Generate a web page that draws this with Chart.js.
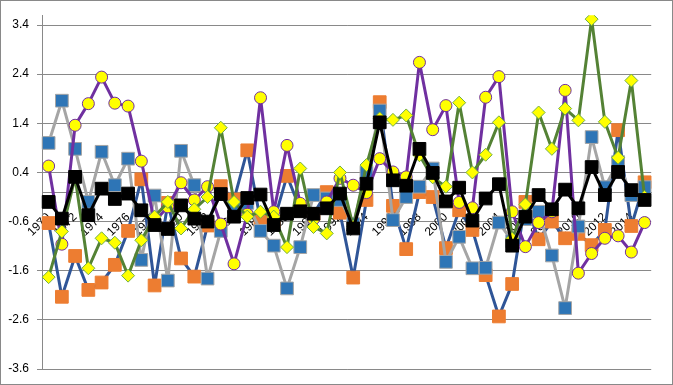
<!DOCTYPE html>
<html>
<head>
<meta charset="utf-8">
<script src="https://cdn.jsdelivr.net/npm/chart.js@4.4.1/dist/chart.umd.min.js"></script>
<style>
  html, body { margin: 0; padding: 0; background: #fff; }
  #wrap { position: relative; width: 673px; height: 385px; }
</style>
</head>
<body>
<div id="wrap"><canvas id="chart" width="673" height="385"></canvas></div>
<script>
const years = ["1970","1971","1972","1973","1974","1975","1976","1977","1978","1979",
  "1980","1981","1982","1983","1984","1985","1986","1987","1988","1989",
  "1990","1991","1992","1993","1994","1995","1996","1997","1998","1999",
  "2000","2001","2002","2003","2004","2005","2006","2007","2008","2009",
  "2010","2011","2012","2013","2014","2015"];

const yTicks = [-3.6, -2.6, -1.6, -0.6, 0.4, 1.4, 2.4, 3.4];

// orange squares on the dark blue line
const orangeVals = [-0.63, -2.13, -1.30, -1.99, -1.84, -1.48, -0.79, 0.26, -1.90, -0.22,
  -1.35, -1.72, -0.68, 0.12, -0.15, 0.85, -0.58, -0.60, 0.33, -0.35,
  -0.45, 0.00, -0.42, -1.74, -0.16, 1.83, -0.28, -1.16, 0.00, -0.10,
  -1.14, -0.37, -0.77, -1.69, -2.53, -1.87, -0.20, -0.96, -0.60, -0.94,
  -0.85, -1.08, -0.77, 1.26, -0.69, 0.20];

// blue squares on the grey line
const blueVals = [1.00, 1.86, 0.88, -0.20, 0.82, 0.14, 0.68, -1.38, -0.07, -1.80,
  0.84, 0.14, -1.76, -0.79, -0.30, -0.22, -0.79, -1.09, -1.96, -1.12,
  -0.06, -0.13, -0.16, -0.65, 0.40, 1.66, -0.57, -0.10, 0.11, 0.48,
  -1.42, -0.91, -1.55, -1.54, -0.62, -1.00, -0.55, -0.40, -1.29, -2.36,
  -0.70, 1.12, 0.10, 0.61, -0.06, 0.10];

// yellow circles on the purple line
const circleVals = [0.53, -1.06, 1.36, 1.80, 2.34, 1.81, 1.75, 0.63, -0.60, -0.30,
  0.19, -0.16, 0.11, -0.65, -1.46, -0.45, 1.92, -0.40, 0.95, -0.23,
  -0.55, -0.20, 0.28, 0.14, -0.01, 0.68, 0.41, 0.31, 2.64, 1.27,
  1.76, -0.21, -0.32, 1.93, 2.35, -0.40, -1.11, -0.62, -0.40, 2.07,
  -1.65, -1.25, -0.94, -0.89, -1.22, -0.62];

// yellow diamonds on the green line
const diamondVals = [-1.73, -0.80, 0.30, -1.55, -0.94, -1.03, -1.70, -0.98, -0.50, -0.20,
  -0.74, -0.35, -0.10, 1.31, -0.20, -0.50, -0.40, -0.50, -1.12, 0.48,
  -0.71, -0.84, 0.40, -0.70, 0.55, 1.50, 1.47, 1.56, 0.75, 0.30,
  0.11, 1.82, 0.40, 0.76, 1.42, -0.95, -0.25, 1.62, 0.88, 1.70,
  1.46, 3.52, 1.43, 0.70, 2.27, -0.10];

// black squares on the black line
const blackVals = [-0.20, -0.54, 0.31, -0.47, 0.07, -0.14, -0.03, -0.37, -0.67, -0.75,
  -0.27, -0.54, -0.60, -0.04, -0.50, -0.12, -0.05, -0.67, -0.44, -0.39,
  -0.44, -0.33, -0.03, -0.74, 0.17, 1.42, 0.24, 0.13, 0.88, 0.39,
  -0.19, 0.09, -0.58, -0.13, 0.16, -1.09, -0.50, -0.06, -0.35, 0.05,
  -0.33, 0.51, -0.06, 0.41, 0.04, -0.16];

const gridGrey = "#898989";

function series(label, values, line, fill, edge, style, radius, order) {
  return {
    label: label,
    data: values,
    borderColor: line,
    borderWidth: 3,
    borderJoinStyle: "round",
    tension: 0,
    pointStyle: style,
    pointRadius: radius,
    pointBackgroundColor: fill,
    pointBorderColor: edge,
    pointBorderWidth: 1,
    order: order
  };
}

const frame = {
  id: "frame",
  afterDraw(chart) {
    const ctx = chart.ctx;
    ctx.save();
    ctx.strokeStyle = gridGrey;
    ctx.lineWidth = 1;
    ctx.strokeRect(0.5, 0.5, chart.width - 1, chart.height - 1);
    ctx.restore();
  }
};

new Chart(document.getElementById("chart"), {
  type: "line",
  data: {
    labels: years,
    datasets: [
      series("Series 5", blackVals, "#000000", "#000000", "#000000", "rect", 9, 1),
      series("Series 4", diamondVals, "#548235", "#FFFF00", "#70AD47", "rectRot", 6.5, 2),
      series("Series 3", circleVals, "#7030A0", "#FFFF00", "#7030A0", "circle", 6, 3),
      series("Series 2", blueVals, "#A5A5A5", "#2E75B6", "#A5A5A5", "rect", 9, 4),
      series("Series 1", orangeVals, "#2F5597", "#ED7D31", "#ED7D31", "rect", 9, 5)
    ]
  },
  options: {
    responsive: false,
    animation: false,
    devicePixelRatio: 1,
    layout: { padding: { left: 0, right: 21, top: 15, bottom: 16 } },
    plugins: {
      legend: { display: false },
      tooltip: { enabled: false }
    },
    scales: {
      x: {
        type: "category",
        offset: true,
        position: { y: 0 },
        grid: { display: false, drawTicks: false },
        border: { display: true, color: gridGrey, width: 1 },
        ticks: {
          autoSkip: false,
          minRotation: 45,
          maxRotation: 45,
          padding: 18,
          color: "#000",
          font: { family: "Liberation Sans", size: 12 },
          callback: (v, i) => (i % 2 === 0 ? years[i] : "")
        }
      },
      y: {
        min: -3.6,
        max: 3.6,
        afterBuildTicks: (scale) => { scale.ticks = yTicks.map(v => ({ value: v })); },
        afterFit: (scale) => { scale.width = 42; },
        grid: { color: gridGrey, lineWidth: 1, tickLength: 5 },
        border: { display: true, color: gridGrey, width: 1 },
        ticks: {
          padding: 8,
          color: "#000",
          font: { family: "Liberation Sans", size: 12 },
          callback: (v) => Number(v).toFixed(1)
        }
      }
    }
  },
  plugins: [frame]
});
</script>
</body>
</html>
